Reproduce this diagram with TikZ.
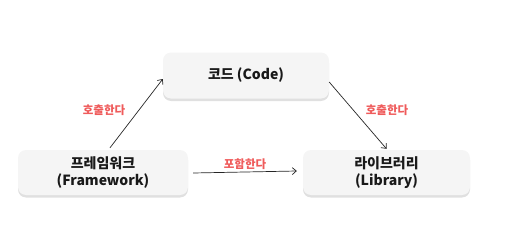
\documentclass[tikz,border=0pt]{standalone}
\usepackage{fontspec}
\setmainfont{Noto Sans CJK KR}
\usetikzlibrary{arrows.meta,shadows,calc}
\definecolor{boxfill}{HTML}{F5F5F5}
\definecolor{lblred}{HTML}{EF5B5B}
\tikzset{
  box/.style={rounded corners=8pt, fill=boxfill, draw=none, align=center,
    font=\fontsize{14}{17}\selectfont\bfseries, text=black!90,
    drop shadow={shadow xshift=0pt, shadow yshift=-2.5pt, opacity=0.12, fill=black}},
  conn/.style={draw=black!85, line width=0.7pt, -{Straight Barb[length=4pt,width=7pt]}},
  lbl/.style={text=lblred, font=\fontsize{11.5}{14}\selectfont\bfseries}
}
\begin{document}
\begin{tikzpicture}[x=1pt,y=-1pt]
\useasboundingbox (0,0) rectangle (507,241);
\node[box, minimum width=166pt, minimum height=46pt] (code) at (246,75.5) {코드 (Code)};
\node[box, minimum width=170pt, minimum height=45pt] (fw) at (103,172.5) {프레임워크\\(Framework)};
\node[box, minimum width=167pt, minimum height=45pt] (lib) at (386.5,172.5) {라이브러리\\(Library)};
\draw[conn] ([xshift=7pt,yshift=2pt]fw.north) -- ([yshift=-3.5pt]code.west);
\draw[conn] ([yshift=-6.5pt]code.east) -- ([yshift=1pt]lib.north);
\draw[conn] ([xshift=5pt,yshift=-0.5pt]fw.east) -- ([xshift=-6pt,yshift=1.5pt]lib.west);
\node[lbl] (l1) at (104,110) {호출한다};
\node[lbl] (l2) at (387,110) {호출한다};
\node[lbl] (l3) at (245,164) {포함한다};
\end{tikzpicture}
\end{document}
